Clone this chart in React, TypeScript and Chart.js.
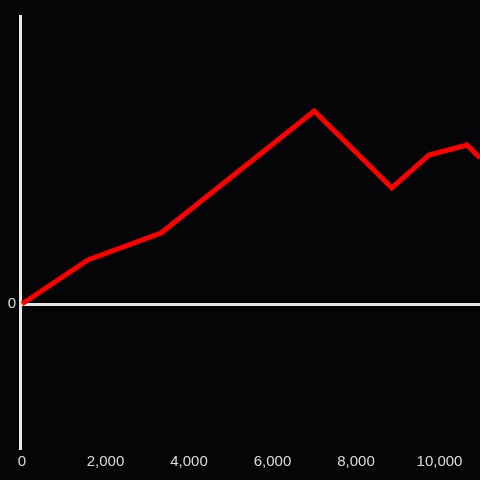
import React, { useEffect, useRef } from "react";
import { Chart, registerables } from "chart.js";

Chart.register(...registerables);

const xValues = [0, 1580, 3330, 7000, 8860, 9750, 10660, 10970];
const yValues = [0, 30.6, 49.3, 134, 80.6, 103.5, 110.4, 101.4];
const xTicks = [0, 2000, 4000, 6000, 8000, 10000];
const yTicks = [0];

const BG = "#050407";
const AXIS = "#e6e6e6";
const TEXT = "#dcdcdc";

export default function App() {
  const ref = useRef<HTMLCanvasElement | null>(null);

  useEffect(() => {
    document.body.style.margin = "0";
    document.body.style.background = BG;
    const bgPlugin = {
      id: "bg",
      beforeDraw(chart: any) {
        const ctx = chart.ctx;
        ctx.save();
        ctx.fillStyle = BG;
        ctx.fillRect(0, 0, chart.width, chart.height);
        ctx.restore();
      },
    };
    const chart = new Chart(ref.current as HTMLCanvasElement, {
      type: "line",
      data: {
        datasets: [
          {
            data: xValues.map((x, i) => ({ x, y: yValues[i] })),
            borderColor: "#ff0000",
            borderWidth: 5,
            pointRadius: 0,
            tension: 0,
            fill: false,
          },
        ],
      },
      options: {
        animation: false,
        responsive: false,
        layout: { padding: { top: 16, left: 0, right: 0, bottom: 0 } },
        plugins: { legend: { display: false }, tooltip: { enabled: false } },
        scales: {
          x: {
            type: "linear",
            min: -48,
            max: 10970,
            grid: { display: false, drawTicks: false },
            border: { display: false },
            afterBuildTicks: (scale: any) => {
              scale.ticks = xTicks.map((v) => ({ value: v }));
            },
            afterFit: (scale: any) => {
              scale.height = 32;
            },
            ticks: {
              color: TEXT,
              padding: 5,
              maxRotation: 0,
              font: { family: "'Liberation Sans', Arial, sans-serif", size: 15 },
              callback: (v: any) => Number(v).toLocaleString("en-US"),
            },
          },
          y: {
            type: "linear",
            min: -100,
            max: 200,
            afterBuildTicks: (scale: any) => {
              scale.ticks = yTicks.map((v) => ({ value: v }));
            },
            afterFit: (scale: any) => {
              scale.width = 20;
            },
            grid: {
              drawTicks: false,
              color: (c: any) => (c.tick && c.tick.value === 0 ? AXIS : "rgba(0,0,0,0)"),
              lineWidth: 3,
            },
            border: { display: true, color: AXIS, width: 3 },
            ticks: {
              color: TEXT,
              padding: 4,
              font: { family: "'Liberation Sans', Arial, sans-serif", size: 15 },
            },
          },
        },
      },
      plugins: [bgPlugin],
    } as any);
    return () => chart.destroy();
  }, []);

  return <canvas ref={ref} width={480} height={480} style={{ display: "block" }} />;
}
